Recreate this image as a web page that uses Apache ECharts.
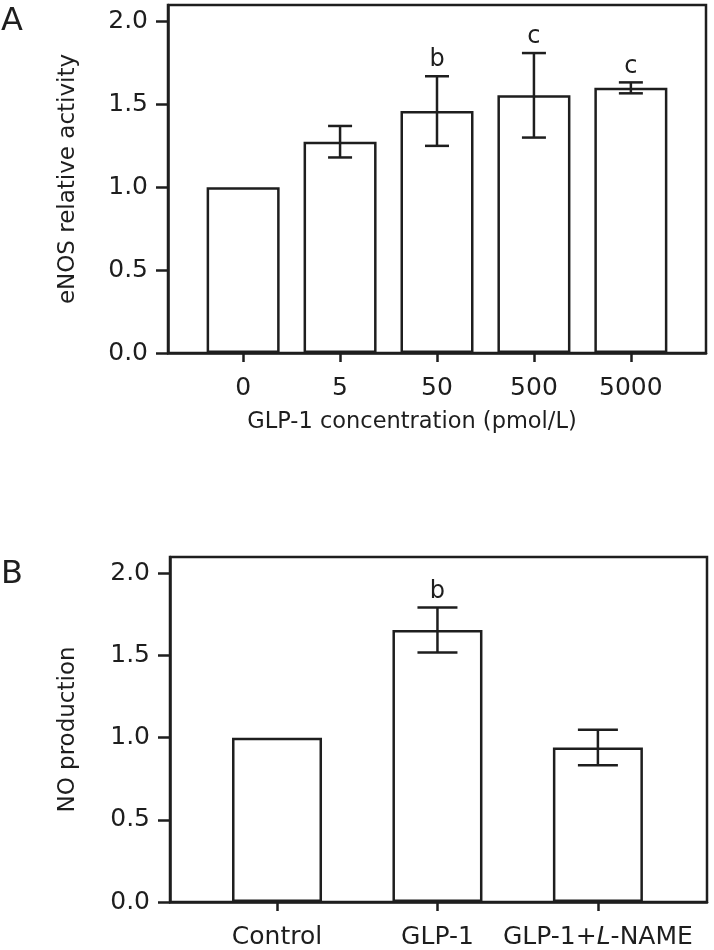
<!DOCTYPE html>
<html>
<head>
<meta charset="utf-8">
<script src="https://cdn.jsdelivr.net/npm/echarts@6/dist/echarts.min.js"></script>
<style>
html,body{margin:0;padding:0;background:#fff;}
#chart{width:714px;height:950px;}
</style>
</head>
<body>
<div id="chart"></div>
<script>
// ---- Data ----
const catsA = ['0', '5', '50', '500', '5000'];
const meanA = [1.00, 1.275, 1.46, 1.555, 1.60];
const errA  = [0.00, 0.095, 0.21, 0.255, 0.033];
const sigA  = ['', '', 'b', 'c', 'c'];

const catsB = ['Control', 'GLP-1', 'GLP-1+L-NAME'];
const meanB = [1.00, 1.655, 0.94];
const errB  = [0.00, 0.137, 0.108];
const sigB  = ['', 'b', ''];

const yTicks = [0, 0.5, 1.0, 1.5, 2.0];

// ---- Styles ----
const INK = '#1e1e1e';
const FONT = 'DejaVu Sans';
const LW = 2.5;

function errRender(capW, sigs) {
  return function (params, api) {
    const i = api.value(0), m = api.value(1), e = api.value(2);
    const hi = api.coord([i, m + e]);
    const lo = api.coord([i, m - e]);
    const st = { stroke: INK, lineWidth: LW };
    const ch = [];
    if (e > 0) {
      ch.push({ type: 'line', shape: { x1: hi[0], y1: hi[1], x2: lo[0], y2: lo[1] }, style: st });
      ch.push({ type: 'line', shape: { x1: hi[0] - capW / 2, y1: hi[1], x2: hi[0] + capW / 2, y2: hi[1] }, style: st });
      ch.push({ type: 'line', shape: { x1: lo[0] - capW / 2, y1: lo[1], x2: lo[0] + capW / 2, y2: lo[1] }, style: st });
    }
    const s = sigs[params.dataIndex];
    if (s) {
      ch.push({ type: 'text', x: hi[0], y: hi[1] - 4,
        style: { text: s, align: 'center', verticalAlign: 'bottom', fontSize: 24, fontFamily: FONT, fill: INK } });
    }
    return { type: 'group', children: ch };
  };
}

function yAxisDef(grid, name, gap) {
  return {
    type: 'value', gridIndex: grid, min: 0, max: 2.1, interval: 0.5,
    axisLine: { show: true, onZero: false, lineStyle: { color: INK, width: LW } },
    axisTick: { show: true, length: 12, lineStyle: { color: INK, width: LW }, customValues: yTicks },
    axisLabel: { customValues: yTicks, formatter: v => v.toFixed(1), fontSize: 25, fontFamily: FONT, color: INK, margin: 20 },
    splitLine: { show: false },
    name: name, nameLocation: 'middle', nameGap: gap,
    nameTextStyle: { fontSize: 23, fontFamily: FONT, color: INK }
  };
}

function xAxisDef(grid, cats, min, max, name, namePad) {
  const idx = cats.map((c, i) => i);
  return {
    type: 'value', gridIndex: grid, min: min, max: max,
    axisLine: { show: true, onZero: false, lineStyle: { color: INK, width: LW } },
    axisTick: { show: true, length: 9, lineStyle: { color: INK, width: LW }, customValues: idx },
    axisLabel: {
      customValues: idx, fontSize: 25, fontFamily: FONT, color: INK, margin: 23,
      formatter: v => {
        const c = cats[Math.round(v)];
        if (c === 'GLP-1+L-NAME') return '{n|GLP-1+}{i|L}{n|-NAME}';
        return c;
      },
      rich: {
        n: { fontSize: 25, fontFamily: FONT, color: INK },
        i: { fontSize: 25, fontFamily: FONT, color: INK, fontStyle: 'italic' }
      }
    },
    splitLine: { show: false },
    name: name, nameLocation: 'middle', nameGap: 58,
    nameTextStyle: { fontSize: 22.5, fontFamily: FONT, color: INK, padding: namePad }
  };
}

const chart = echarts.init(document.getElementById('chart'), null, { renderer: 'canvas' });
chart.setOption({
  animation: false,
  backgroundColor: '#fff',
  graphic: [
    { type: 'text', left: 1, top: 6, style: { text: 'A', fontSize: 32, fontFamily: FONT, fill: INK } },
    { type: 'text', left: 1, top: 559, style: { text: 'B', fontSize: 32, fontFamily: FONT, fill: INK } }
  ],
  grid: [
    { left: 168, top: 5, width: 538, height: 348, show: true, borderColor: INK, borderWidth: LW, backgroundColor: 'transparent' },
    { left: 170, top: 557, width: 537, height: 351, show: true, borderColor: INK, borderWidth: LW, backgroundColor: 'transparent' }
  ],
  xAxis: [
    xAxisDef(0, catsA, -0.775, 4.775, 'GLP-1 concentration (pmol/L)', [0, 50, 0, 0]),
    xAxisDef(1, catsB, -0.667, 2.68, '', 0)
  ],
  yAxis: [
    yAxisDef(0, 'eNOS relative activity', 88),
    yAxisDef(1, 'NO production', 90)
  ],
  series: [
    { type: 'bar', xAxisIndex: 0, yAxisIndex: 0, barWidth: 73,
      itemStyle: { color: '#fff', borderColor: INK, borderWidth: LW },
      data: meanA.map((m, i) => [i, m]) },
    { type: 'custom', xAxisIndex: 0, yAxisIndex: 0, renderItem: errRender(24, sigA),
      encode: { x: 0, y: 1 }, z: 5,
      data: meanA.map((m, i) => [i, m, errA[i]]) },
    { type: 'bar', xAxisIndex: 1, yAxisIndex: 1, barWidth: 90,
      itemStyle: { color: '#fff', borderColor: INK, borderWidth: LW },
      data: meanB.map((m, i) => [i, m]) },
    { type: 'custom', xAxisIndex: 1, yAxisIndex: 1, renderItem: errRender(40, sigB),
      encode: { x: 0, y: 1 }, z: 5,
      data: meanB.map((m, i) => [i, m, errB[i]]) }
  ]
});
</script>
</body>
</html>
